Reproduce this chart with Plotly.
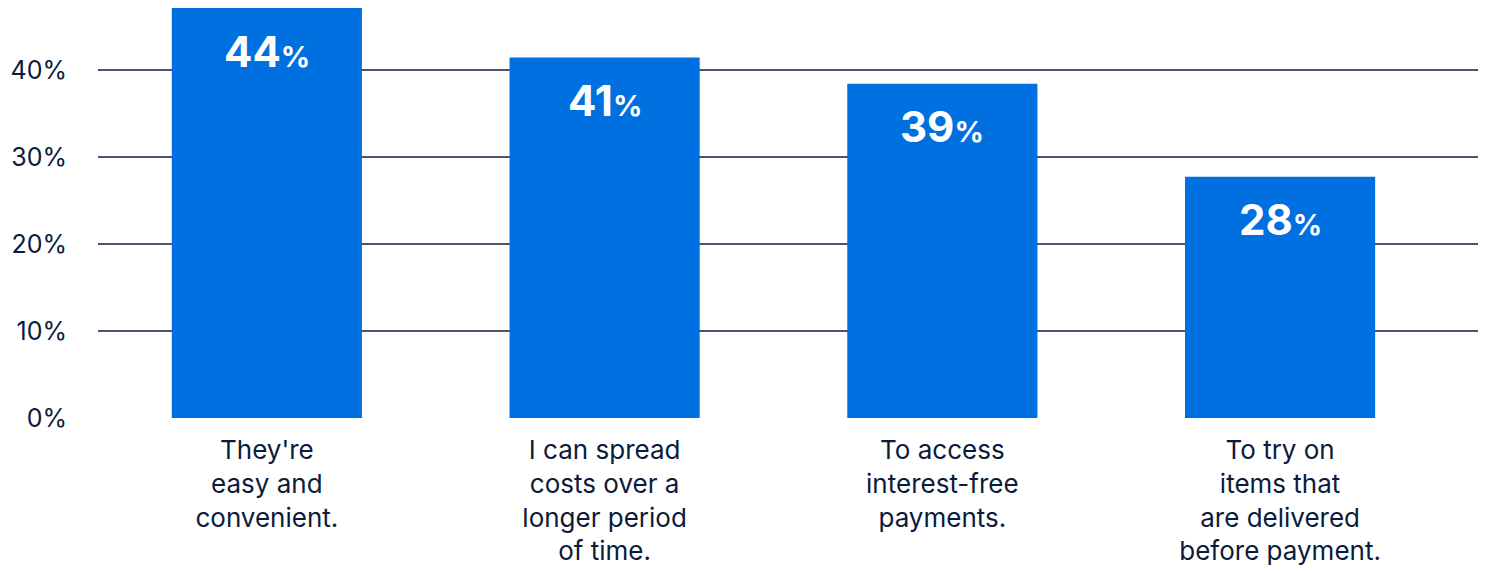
import plotly.graph_objects as go

categories = [
    "They're<br>easy and<br>convenient.",
    "I can spread<br>costs over a<br>longer period<br>of time.",
    "To access<br>interest-free<br>payments.",
    "To try on<br>items that<br>are delivered<br>before payment.",
]
bar_heights = [47.1, 41.4, 38.4, 27.7]
value_labels = ["44", "41", "39", "28"]
y_ticks = [0, 10, 20, 30, 40]
y_tick_labels = ["0%", "10%", "20%", "30%", "40%"]

BLUE = "#0070E0"
NAVY = "#0B1B3B"
GRID = "#4A5670"
FONT = "Inter, Roboto, sans-serif"

x_idx = list(range(len(categories)))

fig = go.Figure()
fig.add_trace(go.Bar(
    x=x_idx, y=bar_heights, width=0.563,
    marker=dict(color=BLUE, line=dict(width=0)),
    hoverinfo="skip",
))

for i, (h, lab) in enumerate(zip(bar_heights, value_labels)):
    fig.add_annotation(
        x=i, y=h, xref="x", yref="y",
        text=f"<b>{lab}</b><span style='font-size:29px'><b>%</b></span>",
        showarrow=False, yanchor="middle", yshift=-43,
        font=dict(family=FONT, size=42, color="white"),
    )

fig.update_layout(
    width=1470, height=564,
    margin=dict(l=90, r=0, t=0, b=154),
    paper_bgcolor="white", plot_bgcolor="white",
    showlegend=False,
    font=dict(family=FONT, color=NAVY),
)
fig.update_xaxes(
    range=[-0.5, 3.586],
    tickmode="array", tickvals=x_idx, ticktext=categories,
    tickfont=dict(family=FONT, size=26, color=NAVY),
    showgrid=False, zeroline=False, showline=False,
    ticklabelstandoff=14, automargin=False,
    fixedrange=True,
)
fig.update_yaxes(
    range=[0, 47.1],
    tickmode="array", tickvals=y_ticks, ticktext=y_tick_labels,
    tickfont=dict(family=FONT, size=25, color=NAVY),
    showgrid=True, gridcolor=GRID, gridwidth=1.5,
    zeroline=False, showline=False,
    ticklabelstandoff=30, automargin=False,
    fixedrange=True,
)

fig.write_html("out.html")
